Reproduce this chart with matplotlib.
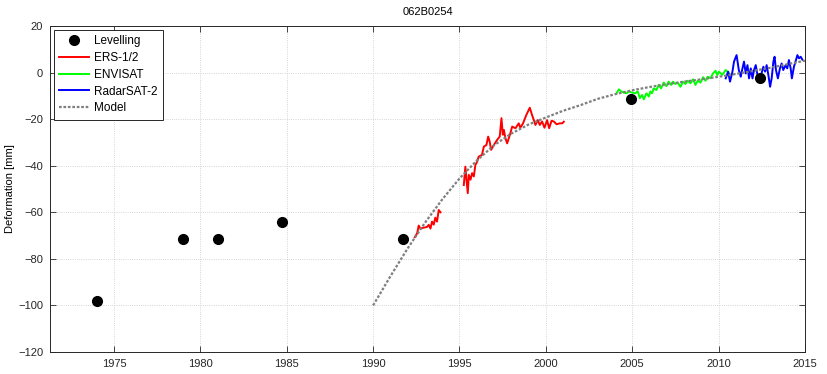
import matplotlib
matplotlib.use("Agg")
import matplotlib.pyplot as plt

plt.rcParams['font.family'] = ['Liberation Sans', 'DejaVu Sans']

# Levelling campaigns
lev_year = [1974.0, 1979.0, 1981.0, 1984.75, 1991.75, 2004.95, 2012.4]
lev_def = [-98.0, -71.5, -71.5, -64.3, -71.5, -11.3, -2.4]

# ERS-1/2
ers_year = [1992.41, 1992.55, 1992.64, 1992.74, 1992.93, 1993.12, 1993.22, 1993.32,
            1993.41, 1993.51, 1993.60, 1993.70, 1993.80, 1993.90, None,
            1995.25, 1995.34, 1995.40, 1995.48, 1995.54, 1995.64, 1995.73, 1995.83,
            1995.92, 1996.02, 1996.11, 1996.30, 1996.41, 1996.56, 1996.66, 1996.75,
            1996.83, 1996.99, 1997.18, 1997.33, 1997.43, 1997.51, 1997.57, 1997.66,
            1997.76, 1997.92, 1998.05, 1998.24, 1998.43, 1998.52, 1998.68, 1998.87,
            1999.07, 1999.20, 1999.40, 1999.53, 1999.65, 1999.78, 1999.92, 2000.07,
            2000.19, 2000.33, 2000.46, 2000.62, 2000.81, 2000.95, 2001.04]
ers_def = [-70.7, -69.0, -65.7, -67.0, -66.6, -66.3, -65.4, -67.0,
           -64.0, -65.3, -62.3, -64.0, -59.0, -60.0, None,
           -48.3, -40.4, -45.5, -51.8, -43.9, -46.0, -43.2, -44.6,
           -39.7, -38.3, -36.1, -35.4, -31.8, -31.1, -27.5, -29.7,
           -33.2, -31.1, -28.9, -27.5, -19.6, -26.7, -24.6, -28.2,
           -30.4, -26.7, -23.2, -23.9, -21.8, -23.7, -21.8, -18.2,
           -15.1, -18.2, -22.5, -20.4, -22.5, -21.0, -23.7, -20.4,
           -23.9, -20.7, -21.0, -22.2, -21.8, -21.8, -21.1]

# ENVISAT
env_year = [2004.09, 2004.23, 2004.36, 2004.52, 2004.67, 2004.80, 2004.99, 2005.18,
            2005.32, 2005.44, 2005.57, 2005.67, 2005.82, 2005.96, 2006.05, 2006.15,
            2006.24, 2006.40, 2006.53, 2006.67, 2006.82, 2006.98, 2007.11, 2007.25,
            2007.36, 2007.50, 2007.63, 2007.79, 2007.94, 2008.08, 2008.21, 2008.37,
            2008.52, 2008.66, 2008.79, 2008.95, 2009.10, 2009.24, 2009.37, 2009.53,
            2009.68, 2009.82, 2009.92, 2010.02, 2010.21, 2010.41, 2010.60]
env_def = [-8.9, -7.2, -8.1, -8.6, -8.9, -8.1, -8.6, -8.9,
           -8.1, -11.0, -9.6, -11.5, -8.9, -10.3, -8.1, -8.9,
           -6.8, -7.5, -5.3, -6.8, -4.3, -5.8, -3.9, -5.3,
           -3.9, -4.9, -4.3, -6.1, -3.9, -4.9, -3.5, -4.6,
           -2.9, -5.3, -3.5, -4.3, -2.0, -3.5, -1.8, -2.4,
           -0.3, 0.8, -1.1, 0.4, -1.0, 1.1, -0.3]

# RadarSAT-2
rs2_year = [2010.41, 2010.55, 2010.66, 2010.80, 2010.89, 2011.04, 2011.17, 2011.28,
            2011.38, 2011.47, 2011.57, 2011.67, 2011.76, 2011.86, 2011.96, 2012.05,
            2012.15, 2012.25, 2012.36, 2012.48, 2012.59, 2012.69, 2012.78, 2012.88,
            2012.98, 2013.07, 2013.17, 2013.24, 2013.32, 2013.43, 2013.55, 2013.65,
            2013.74, 2013.88, 2013.97, 2014.07, 2014.17, 2014.24, 2014.36, 2014.45,
            2014.56, 2014.65, 2014.75, 2014.85]
rs2_def = [-2.5, 0.4, -3.9, 0.4, 4.7, 7.5, 1.1, -1.8,
           1.8, 4.7, -0.4, 3.2, -2.5, 1.8, -2.5, 1.1,
           3.2, -1.1, -3.9, -0.4, 2.5, 0.4, 3.2, -1.1,
           -6.1, -2.5, 4.7, 6.8, 1.1, -2.5, 1.8, 3.9,
           1.1, 3.2, 1.8, 5.4, 1.8, -2.5, 2.5, 4.7,
           7.5, 6.1, 6.8, 5.5]

# Model
model_year = [1990, 1991, 1992, 1993, 1994, 1995, 1996, 1997, 1998, 1999, 2000, 2001, 2002,
              2003, 2004, 2005, 2006, 2007, 2008, 2009, 2010, 2011, 2012, 2013, 2014, 2015]
model_def = [-100.0, -87.5, -75.5, -64.5, -54.5, -45.5, -37.8, -31.2, -26.2, -22.3, -19.3,
             -16.4, -14.0, -11.3, -9.3, -7.6, -6.2, -5.0, -3.9, -2.9, -1.8, -0.6, 0.7,
             2.1, 3.6, 5.1]

x_ticks = [1975, 1980, 1985, 1990, 1995, 2000, 2005, 2010, 2015]
y_ticks = [20, 0, -20, -40, -60, -80, -100, -120]


def to_float(vals):
    return [float('nan') if v is None else v for v in vals]


fig = plt.figure(figsize=(8.27, 3.74), dpi=100)
ax = fig.add_axes([0.0605, 0.0588, 0.9129, 0.8717])

ax.plot(lev_year, lev_def, 'o', color='black', markersize=7, label='Levelling', zorder=5)
ax.plot(to_float(ers_year), to_float(ers_def), '-', color='red', lw=1.4, label='ERS-1/2')
ax.plot(env_year, env_def, '-', color='#00ff00', lw=1.4, label='ENVISAT')
ax.plot(rs2_year, rs2_def, '-', color='blue', lw=1.4, label='RadarSAT-2')
ax.plot(model_year, model_def, color='#7f7f7f', lw=1.6, linestyle=(0, (1.2, 0.8)),
        label='Model', zorder=4)

ax.set_xlim(1971.3, 2015)
ax.set_ylim(-120, 20)
ax.set_xticks(x_ticks)
ax.set_yticks(y_ticks)
ax.tick_params(direction='in', length=4, width=0.6, labelsize=8, colors='#262626',
               top=True, right=True, pad=5)
for s in ax.spines.values():
    s.set_color('#262626')
    s.set_linewidth(0.7)
ax.grid(True, linestyle=':', color='#c8c8c8', linewidth=0.6)
ax.set_axisbelow(True)

ax.set_ylabel('Deformation [mm]', fontsize=8)
ax.yaxis.set_label_coords(-0.047, 0.5)
ax.set_title('062B0254', fontsize=8, pad=8)

leg = ax.legend(loc='upper left', fontsize=8.5, frameon=True, fancybox=False,
                edgecolor='#262626', framealpha=1, borderaxespad=0.35,
                handlelength=2.5, labelspacing=0.4, borderpad=0.45, handletextpad=0.4)
leg.get_frame().set_linewidth(0.7)

fig.savefig('out.png', dpi=100)
